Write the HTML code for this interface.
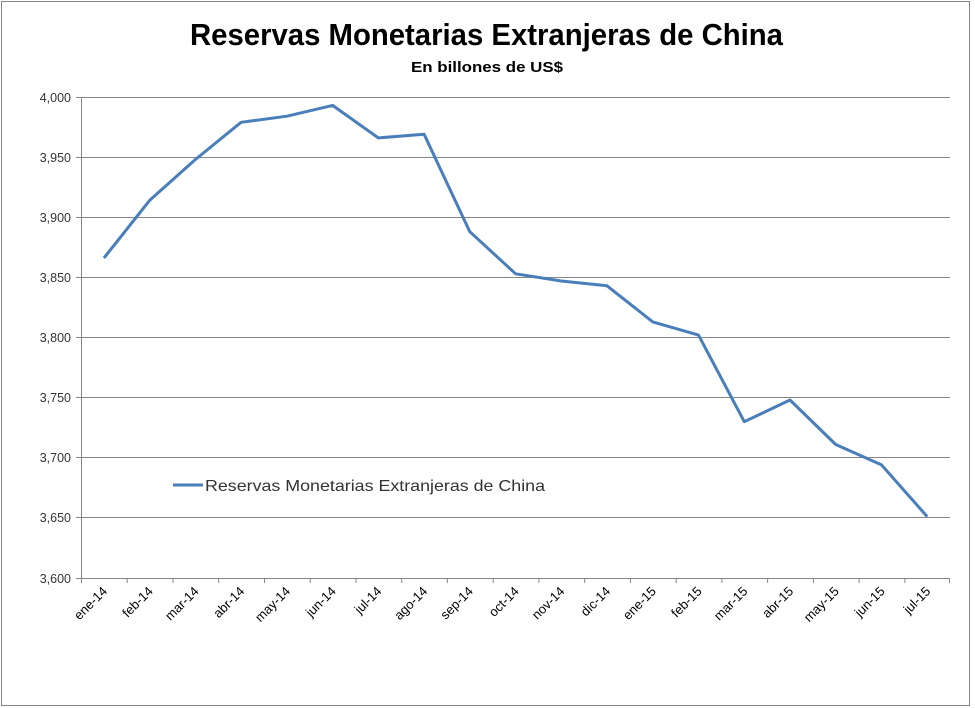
<!DOCTYPE html>
<html><head><style>body{margin:0;background:#fff}svg{display:block}</style></head>
<body>
<svg width="975" height="708" viewBox="0 0 975 708" xmlns="http://www.w3.org/2000/svg" font-family="Liberation Sans, sans-serif">
<rect x="1.5" y="1.5" width="968" height="704" fill="#fff" stroke="#868686"/>
<text x="190" y="45" font-size="31" font-weight="bold" fill="#000" textLength="593" lengthAdjust="spacingAndGlyphs">Reservas Monetarias Extranjeras de China</text>
<text x="411" y="72" font-size="15" font-weight="bold" fill="#000" textLength="152" lengthAdjust="spacingAndGlyphs">En billones de US$</text>
<g stroke="#868686" stroke-width="1">
<line x1="81" y1="97.5" x2="950" y2="97.5"/><line x1="81" y1="157.5" x2="950" y2="157.5"/><line x1="81" y1="217.5" x2="950" y2="217.5"/><line x1="81" y1="277.5" x2="950" y2="277.5"/><line x1="81" y1="337.5" x2="950" y2="337.5"/><line x1="81" y1="397.5" x2="950" y2="397.5"/><line x1="81" y1="457.5" x2="950" y2="457.5"/><line x1="81" y1="517.5" x2="950" y2="517.5"/>
<line x1="81.5" y1="97" x2="81.5" y2="583"/><line x1="76" y1="578.5" x2="950" y2="578.5"/>
<path d="M76 97.5h5M76 157.5h5M76 217.5h5M76 277.5h5M76 337.5h5M76 397.5h5M76 457.5h5M76 517.5h5"/>
<path d="M81.5 578v5M127.2 578v5M173 578v5M218.7 578v5M264.5 578v5M310.2 578v5M356 578v5M401.7 578v5M447.4 578v5M493.2 578v5M538.9 578v5M584.7 578v5M630.4 578v5M676.2 578v5M721.9 578v5M767.6 578v5M813.4 578v5M859.1 578v5M904.9 578v5M949.5 578v5"/>
</g>
<g font-size="12.5" fill="#333" text-anchor="end">
<text x="71" y="102">4,000</text><text x="71" y="162">3,950</text><text x="71" y="222">3,900</text><text x="71" y="282">3,850</text><text x="71" y="342">3,800</text><text x="71" y="402">3,750</text><text x="71" y="462">3,700</text><text x="71" y="522">3,650</text><text x="71" y="583">3,600</text>
</g>
<g font-size="13" fill="#000" text-anchor="end">
<text transform="translate(108,592) rotate(-45)">ene-14</text>
<text transform="translate(153.7,592) rotate(-45)">feb-14</text>
<text transform="translate(199.5,592) rotate(-45)">mar-14</text>
<text transform="translate(245.2,592) rotate(-45)">abr-14</text>
<text transform="translate(291,592) rotate(-45)">may-14</text>
<text transform="translate(336.7,592) rotate(-45)">jun-14</text>
<text transform="translate(382.4,592) rotate(-45)">jul-14</text>
<text transform="translate(428.2,592) rotate(-45)">ago-14</text>
<text transform="translate(473.9,592) rotate(-45)">sep-14</text>
<text transform="translate(519.7,592) rotate(-45)">oct-14</text>
<text transform="translate(565.4,592) rotate(-45)">nov-14</text>
<text transform="translate(611.1,592) rotate(-45)">dic-14</text>
<text transform="translate(656.9,592) rotate(-45)">ene-15</text>
<text transform="translate(702.6,592) rotate(-45)">feb-15</text>
<text transform="translate(748.4,592) rotate(-45)">mar-15</text>
<text transform="translate(794.1,592) rotate(-45)">abr-15</text>
<text transform="translate(839.8,592) rotate(-45)">may-15</text>
<text transform="translate(885.6,592) rotate(-45)">jun-15</text>
<text transform="translate(931.3,592) rotate(-45)">jul-15</text>
</g>
<polyline fill="none" stroke="#4a7ebb" stroke-width="3" stroke-linejoin="round" points="103.9,258.1 149.6,200.4 195.4,159.5 241.1,122.3 286.9,116.2 332.6,105.4 378.3,137.9 424.1,134.3 469.8,231.7 515.6,273.8 561.3,281 607,285.8 652.8,321.9 698.5,335.1 744.3,421.7 790,400 835.7,444.5 881.5,464.9 927.2,516.6"/>
<line x1="173" y1="485" x2="203" y2="485" stroke="#4a7ebb" stroke-width="3"/>
<text x="205" y="491" font-size="16" fill="#333" textLength="340" lengthAdjust="spacingAndGlyphs">Reservas Monetarias Extranjeras de China</text>
</svg>
</body></html>
